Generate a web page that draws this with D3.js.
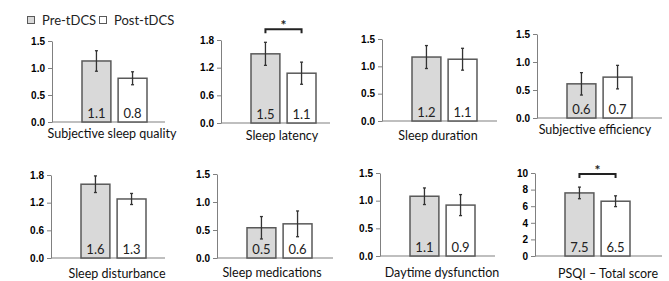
<!DOCTYPE html>
<html lang="en">
<head>
<meta charset="utf-8">
<title>PSQI pre/post tDCS</title>
<script src="https://cdn.jsdelivr.net/npm/d3@7"></script>
<style>
  body { margin: 0; background: #fff; }
  svg { display: block; }
</style>
</head>
<body>
<script>
// data
var categories = ["Subjective sleep quality", "Sleep latency", "Sleep duration", "Subjective efficiency",
                  "Sleep disturbance", "Sleep medications", "Daytime dysfunction", "PSQI \u2013 Total score"];
var groups = ["Pre-tDCS", "Post-tDCS"];
var preMean  = [1.13, 1.50, 1.17, 0.61, 1.60, 0.54, 1.08, 7.6];
var postMean = [0.81, 1.08, 1.13, 0.73, 1.28, 0.61, 0.92, 6.6];
var preErr   = [0.19, 0.25, 0.21, 0.20, 0.18, 0.20, 0.15, 0.7];
var postErr  = [0.12, 0.24, 0.20, 0.21, 0.12, 0.23, 0.19, 0.65];
var preLabel  = ["1.1", "1.5", "1.2", "0.6", "1.6", "0.5", "1.1", "7.5"];
var postLabel = ["0.8", "1.1", "1.1", "0.7", "1.3", "0.6", "0.9", "6.5"];
var yMax  = [1.5, 1.8, 1.5, 1.5, 1.8, 1.5, 1.5, 10];
var yStep = [0.5, 0.6, 0.5, 0.5, 0.6, 0.5, 0.5, 2];
var significant = [false, true, false, false, false, false, false, true];

// panel layout (pixels)
var layout = [
  {ax: 52,  top: 41,  bot: 122, right: 165, lx: 112, ly: 138},
  {ax: 221, top: 40,  bot: 123, right: 330, lx: 282, ly: 140},
  {ax: 382, top: 39,  bot: 121, right: 497, lx: 438, ly: 140},
  {ax: 537, top: 34,  bot: 118, right: 662, lx: 595, ly: 134},
  {ax: 51,  top: 175, bot: 258, right: 165, lx: 117, ly: 278},
  {ax: 217, top: 174, bot: 258, right: 333, lx: 272, ly: 277},
  {ax: 380, top: 173, bot: 256, right: 495, lx: 442, ly: 277},
  {ax: 535, top: 173, bot: 256, right: 662, lx: 608, ly: 278}
];

var w = 669, h = 281;
var svg = d3.select("body").append("svg")
  .attr("width", w).attr("height", h);

var fills = ["#d9d9d9", "#ffffff"];
var font = "Lato, 'Open Sans', sans-serif";

// legend
var legend = svg.append("g").attr("transform", "translate(27,15)");
var legX = [0, 72];
groups.forEach(function(g, i) {
  legend.append("rect")
    .attr("x", legX[i] + 0.5).attr("y", 1.5)
    .attr("width", 7).attr("height", 7)
    .attr("fill", fills[i]).attr("stroke", "#595959").attr("stroke-width", 1);
  legend.append("text")
    .attr("x", legX[i] + 15).attr("y", 10)
    .attr("font-family", font).attr("font-size", "13px").attr("fill", "#222")
    .text(g);
});

categories.forEach(function(cat, k) {
  var L = layout[k];
  var g = svg.append("g");

  var y = d3.scaleLinear().domain([0, yMax[k]]).range([L.bot, L.top]);
  var x = d3.scaleBand().domain(groups).range([L.ax + 30, L.ax + 95]).paddingInner(0.2);

  var ticks = d3.range(0, yMax[k] + yStep[k] / 2, yStep[k]);
  var yAxis = d3.axisLeft(y).tickValues(ticks).tickSize(4).tickSizeOuter(0)
    .tickFormat(yMax[k] >= 10 ? d3.format("d") : d3.format(".1f"));
  var ag = g.append("g").attr("transform", "translate(" + L.ax + ",0)").call(yAxis);
  ag.select(".domain").attr("stroke", "#808080");
  ag.selectAll(".tick line").attr("stroke", "#808080");
  ag.selectAll(".tick text")
    .attr("font-family", "'Liberation Sans', Arial, sans-serif")
    .attr("font-weight", "bold").attr("font-size", "10px").attr("fill", "#000")
    .attr("x", -7);

  // baseline
  g.append("line")
    .attr("x1", L.ax).attr("x2", L.right)
    .attr("y1", y(0)).attr("y2", y(0))
    .attr("stroke", "#808080").attr("stroke-width", 1.2);

  var rows = [
    {grp: groups[0], m: preMean[k], e: preErr[k], lab: preLabel[k], fill: fills[0]},
    {grp: groups[1], m: postMean[k], e: postErr[k], lab: postLabel[k], fill: fills[1]}
  ];

  g.selectAll("rect.bar").data(rows).enter().append("rect")
    .attr("class", "bar")
    .attr("x", function(d) { return x(d.grp); })
    .attr("y", function(d) { return y(d.m); })
    .attr("width", x.bandwidth())
    .attr("height", function(d) { return y(0) - y(d.m); })
    .attr("fill", function(d) { return d.fill; })
    .attr("stroke", "#595959").attr("stroke-width", 1.5);

  // error bars
  g.selectAll("line.err").data(rows).enter().append("line")
    .attr("class", "err")
    .attr("x1", function(d) { return x(d.grp) + x.bandwidth() / 2; })
    .attr("x2", function(d) { return x(d.grp) + x.bandwidth() / 2; })
    .attr("y1", function(d) { return y(d.m - d.e); })
    .attr("y2", function(d) { return y(d.m + d.e); })
    .attr("stroke", "#333").attr("stroke-width", 1.3);
  ["lo", "hi"].forEach(function(end) {
    g.selectAll("line.cap" + end).data(rows).enter().append("line")
      .attr("x1", function(d) { return x(d.grp) + x.bandwidth() / 2 - 1.5; })
      .attr("x2", function(d) { return x(d.grp) + x.bandwidth() / 2 + 1.5; })
      .attr("y1", function(d) { return y(end == "lo" ? d.m - d.e : d.m + d.e); })
      .attr("y2", function(d) { return y(end == "lo" ? d.m - d.e : d.m + d.e); })
      .attr("stroke", "#333").attr("stroke-width", 1.3);
  });

  // value labels inside the bars
  g.selectAll("text.val").data(rows).enter().append("text")
    .attr("x", function(d) { return x(d.grp) + x.bandwidth() / 2; })
    .attr("y", y(0) - 4)
    .attr("text-anchor", "middle")
    .attr("font-family", font).attr("font-size", "13px").attr("fill", "#222")
    .text(function(d) { return d.lab; });

  // category label
  g.append("text")
    .attr("x", L.lx).attr("y", L.ly)
    .attr("text-anchor", "middle")
    .attr("font-family", font).attr("font-size", "12.5px").attr("fill", "#111")
    .text(cat);

  // significance bracket
  if (significant[k]) {
    var top = Math.max(rows[0].m + rows[0].e, rows[1].m + rows[1].e);
    var by = y(top) - 13;
    var bx1 = x(groups[0]) + x.bandwidth() / 2, bx2 = x(groups[1]) + x.bandwidth() / 2;
    g.append("path")
      .attr("d", "M" + bx1 + "," + (by + 4) + "V" + by + "H" + bx2 + "V" + (by + 4))
      .attr("fill", "none").attr("stroke", "#222").attr("stroke-width", 2);
    g.append("text")
      .attr("x", (bx1 + bx2) / 2).attr("y", by + 1)
      .attr("text-anchor", "middle")
      .attr("font-family", font).attr("font-size", "14px").attr("font-weight", "bold").attr("fill", "#222")
      .text("*");
  }
});
</script>
</body>
</html>
